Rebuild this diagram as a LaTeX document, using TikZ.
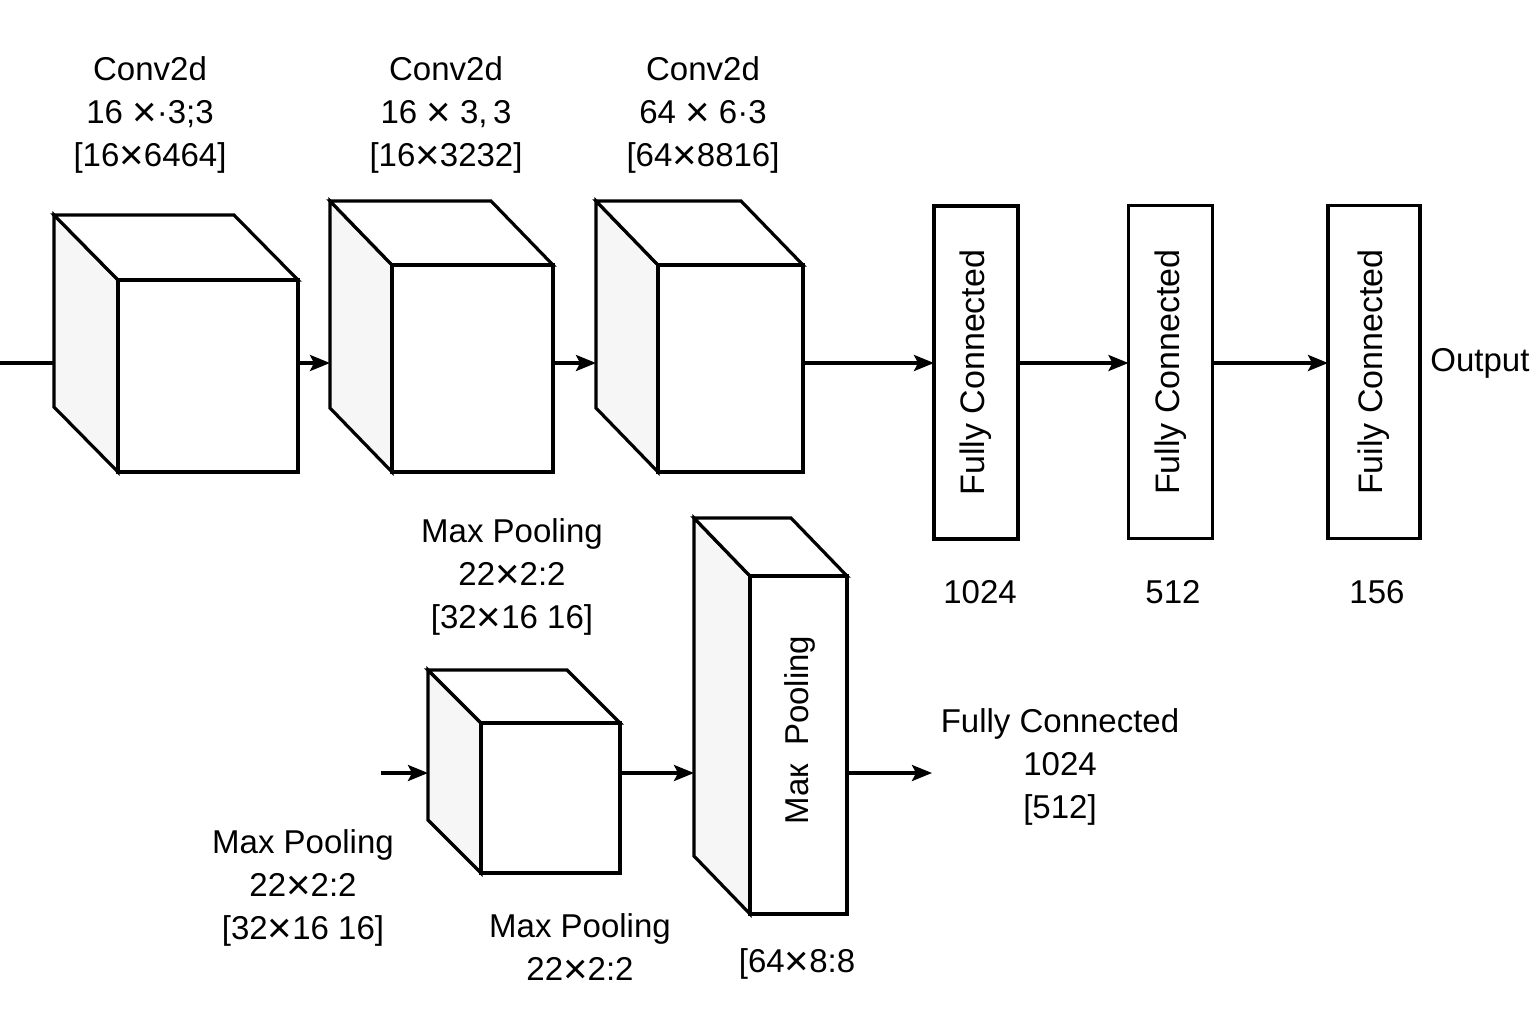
\documentclass[tikz,border=0pt]{standalone}
\usepackage{fontspec}
\setmainfont{Liberation Sans}
\usetikzlibrary{arrows.meta}
\definecolor{sidegray}{HTML}{F6F6F6}
\newcommand\tms{\raisebox{-1.5pt}{\fontsize{21}{0}\selectfont ×}}
\newcommand\slab[7]{%
  \draw[face, fill=sidegray] ({#2-#6},{#3-#7}) -- (#2,#3) -- (#2,#5) -- ({#2-#6},{#5-#7}) -- cycle;
  \draw[face, fill=white] ({#2-#6},{#3-#7}) -- ({#4-#6},{#3-#7}) -- (#4,#3) -- (#2,#3) -- cycle;
  \node[face, fill=white, minimum width={(#4-#2)*0.5pt}, minimum height={(#5-#3)*0.5pt}] (#1) at ({(#2+#4)/2},{(#3+#5)/2}) {};
  \coordinate (#1in) at ({#2-#6},{(#3+#5)/2});
}
\begin{document}
\begin{tikzpicture}[x=0.5pt,y=-0.5pt,
  face/.style={draw=black, line width=1.6pt, line join=miter, inner sep=0pt, outer sep=0pt},
  lbl/.style={font=\fontsize{16.5}{21.5}\selectfont, align=center, inner sep=0pt},
  fcbox/.style={face, fill=white, rotate=90, minimum width=166.5pt, minimum height=42pt, font=\fontsize{17}{20}\selectfont},
  arr/.style={line width=1.6pt, -{Stealth[length=10pt,width=8pt,inset=2pt]}},
  plain/.style={line width=1.6pt}]
\fill[white] (0,0) rectangle (1536,1024);
\useasboundingbox (0,0) rectangle (1536,1024);
\coordinate (ay) at (0,363);
\coordinate (by) at (0,773);
% top row cubes
\slab{c1}{118}{280}{298}{472}{64}{65}
\slab{c2}{392}{265}{553}{472}{62}{64}
\slab{c3}{658}{265}{803}{472}{62}{64}
% fully connected boxes
\node[fcbox] (fc1) at (976,372.5) {Fully Connected};
\node[fcbox] (fc2) at (1170.5,372) {Fully Connected};
\node[fcbox, minimum height=46pt] (fc3) at (1374,372) {Fuily Connected};
\node[lbl, anchor=west] (out) at (1430,363) {Output};
% top connectors
\coordinate (start) at (0,363);
\draw[plain] (start) -- (c1in |- ay);
\draw[arr] (c1.east |- ay) -- (c2in |- ay);
\draw[arr] (c2.east |- ay) -- (c3in |- ay);
\draw[arr] (c3.east |- ay) -- (fc1.north |- ay);
\draw[arr] (fc1.south |- ay) -- (fc2.north |- ay);
\draw[arr] (fc2.south |- ay) -- (fc3.north |- ay);
% top labels
\node[lbl] (l1) at (150,115) {Conv2d\\16 \tms·3;3\\{}[16\tms6464]};
\node[lbl] (l2) at (446,115) {Conv2d\\16 \tms{} 3,\,3\\{}[16\tms3232]};
\node[lbl] (l3) at (703,115) {Conv2d\\64 \tms{} 6·3\\{}[64\tms8816]};
\node[lbl] (n1) at (980,592) {1024};
\node[lbl] (n2) at (1173,592) {512};
\node[lbl] (n3) at (1377,592) {156};
% bottom row
\slab{p1}{481}{723}{620}{873}{53}{53}
\slab{p2}{750}{576}{847}{914}{56}{58}
\node[lbl, rotate=90] (p2t) at (800,730) {Maк\ \ Pooling};
\coordinate (pin) at (381,773);
\coordinate (pout) at (932,773);
\draw[arr] (pin) -- (p1in |- by);
\draw[arr] (p1.east |- by) -- (p2in |- by);
\draw[arr] (p2.east |- by) -- (pout);
\node[lbl] (mpt) at (512,577) {Max Pooling\\22\tms2:2\\{}[32\tms16 16]};
\node[lbl] (mpl) at (303,888) {Max Pooling\\22\tms2:2\\{}[32\tms16 16]};
\node[lbl] (mpb) at (580,949) {Max Pooling\\22\tms2:2};
\node[lbl] (dim) at (797,964) {[64\tms8:8};
\node[lbl] (fcl) at (1060,767) {Fully Connected\\1024\\{}[512]};
\end{tikzpicture}
\end{document}
